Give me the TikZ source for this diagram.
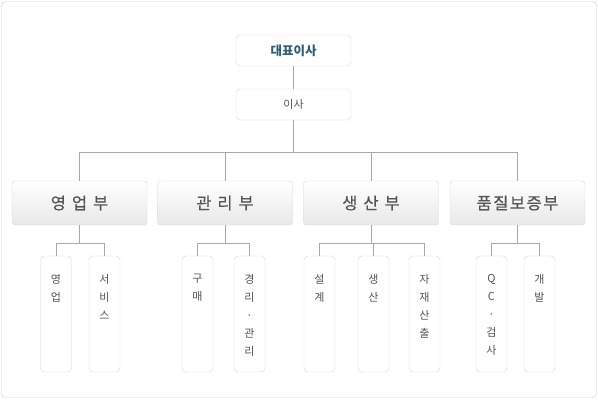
\documentclass[tikz,border=0pt]{standalone}
\usepackage{fontspec}
\newfontfamily\cjk{Noto Sans CJK KR}
\newfontfamily\cjkdept[FakeBold=0.4]{Noto Sans CJK KR}
\usetikzlibrary{calc}
\definecolor{framegray}{HTML}{D0D0D0}
\definecolor{boxgray}{HTML}{D8D8D8}
\definecolor{linegray}{HTML}{A8A8A8}
\definecolor{textgray}{HTML}{555555}
\definecolor{ceoteal}{HTML}{2E5F70}
\definecolor{deptbot}{HTML}{E8E8E8}
\newcommand{\dsp}{\hspace{6pt}}

\begin{document}
\begin{tikzpicture}[x=1pt,y=-1pt,
    topbox/.style={draw=boxgray,fill=white,rounded corners=4pt,minimum width=115pt,minimum height=31pt,inner sep=0pt,font=\cjk\fontsize{11}{13}\selectfont,text=textgray},
    deptbox/.style={draw=boxgray,top color=white,bottom color=deptbot,rounded corners=3pt,minimum width=135pt,minimum height=44pt,inner sep=0pt,font=\cjkdept\fontsize{16.5}{18}\selectfont,text=textgray},
    subbox/.style={draw=boxgray,fill=white,rounded corners=4pt,minimum width=31pt,minimum height=116pt,inner sep=0pt},
    subtext/.style={anchor=north,align=center,inner sep=0pt,font=\cjk\fontsize{11}{18}\selectfont,text=textgray},
    conn/.style={draw=linegray,line width=0.8pt}]
    % frame
    \useasboundingbox (0,0) rectangle (598,400);
    \draw[framegray,rounded corners=4pt] (1.5,1.5) rectangle (596.5,397.5);

    % top
    \node[topbox,font=\cjk\bfseries\fontsize{12.5}{14}\selectfont,text=ceoteal] (ceo) at (293.5,50.5) {대표이사};
    \node[topbox] (director) at (293.5,104.5) {이사};

    % departments
    \node[deptbox] (sales) at (79.5,203) {영\dsp 업\dsp 부};
    \node[deptbox] (admin) at (225,203) {관\dsp 리\dsp 부};
    \node[deptbox] (prod) at (371,203) {생\dsp 산\dsp 부};
    \node[deptbox] (qa) at (517.5,203) {품\kern1.5pt 질\kern1.5pt 보\kern1.5pt 증\kern1.5pt 부};

    % sections
    \node[subbox] (s1) at (56,314) {};
    \node[subbox] (s2) at (104.5,314) {};
    \node[subbox] (a1) at (197.5,314) {};
    \node[subbox] (a2) at (249.5,314) {};
    \node[subbox] (p1) at (319.5,314) {};
    \node[subbox] (p2) at (373.5,314) {};
    \node[subbox] (p3) at (424.5,314) {};
    \node[subbox] (q1) at (491.5,314) {};
    \node[subbox] (q2) at (539.5,314) {};
    \node[subtext] at ($(s1.north)+(0,18)$) {영\\업};
    \node[subtext] at ($(s2.north)+(0,18)$) {서\\비\\스};
    \node[subtext] at ($(a1.north)+(0,18)$) {구\\매};
    \node[subtext] at ($(a2.north)+(0,18)$) {경\\리\\·\\관\\리};
    \node[subtext] at ($(p1.north)+(0,18)$) {설\\계};
    \node[subtext] at ($(p2.north)+(0,18)$) {생\\산};
    \node[subtext] at ($(p3.north)+(0,18)$) {자\\재\\산\\출};
    \node[subtext] at ($(q1.north)+(0,18)$) {Q\\C\\·\\검\\사};
    \node[subtext] at ($(q2.north)+(0,18)$) {개\\발};

    % connectors
    \draw[conn] (ceo) -- (director);
    \draw[conn] (director.south) -- ++(0,32) coordinate (bar);
    \draw[conn] (sales.north) |- (bar) -| (qa.north);
    \draw[conn] (admin.north) -- (admin.north |- bar);
    \draw[conn] (prod.north) -- (prod.north |- bar);
    \draw[conn] (sales.south) -- ++(0,18) coordinate (sbar);
    \draw[conn] (s1.north) |- (sbar) -| (s2.north);
    \draw[conn] (admin.south) -- ++(0,18) coordinate (abar);
    \draw[conn] (a1.north) |- (abar) -| (a2.north);
    \draw[conn] (prod.south) -- ++(0,18) coordinate (pbar);
    \draw[conn] (p1.north) |- (pbar) -| (p3.north);
    \draw[conn] (p2.north) -- (p2.north |- pbar);
    \draw[conn] (qa.south) -- ++(0,18) coordinate (qbar);
    \draw[conn] (q1.north) |- (qbar) -| (q2.north);
\end{tikzpicture}
\end{document}
